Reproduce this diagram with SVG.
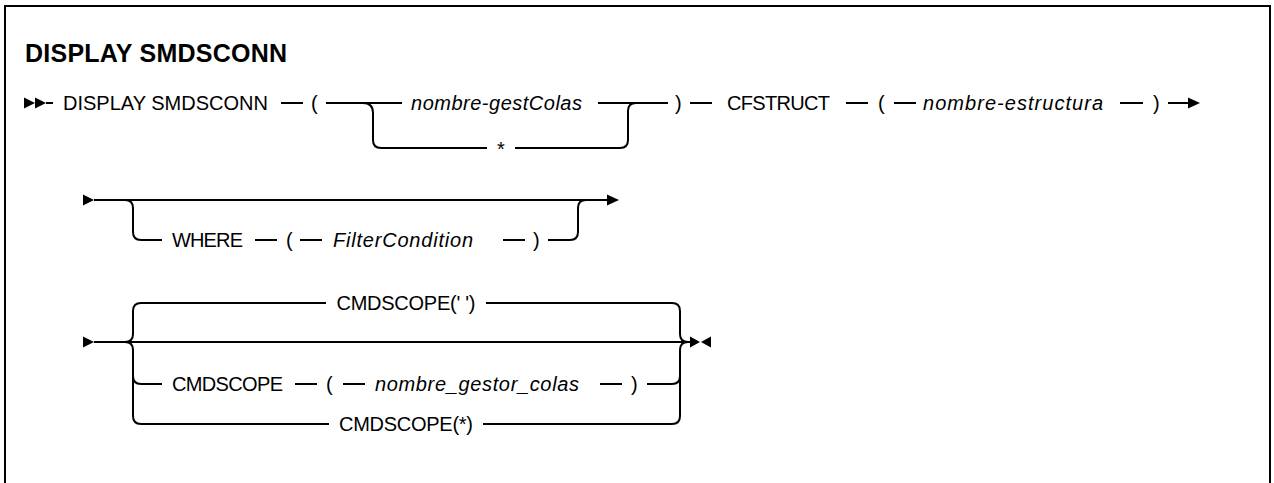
<svg xmlns="http://www.w3.org/2000/svg" width="1274" height="483" viewBox="0 0 1274 483">
<style>
text{font-family:"Liberation Sans",Arial,sans-serif;font-size:20px;fill:#000}
.t{font-size:25px;font-weight:bold}
.i{font-style:italic}
.c{text-anchor:middle}
.l{fill:none;stroke:#000;stroke-width:2}
.h{fill:#000;stroke:none}
</style>
<rect x="5" y="6" width="1265" height="520" fill="#fff" stroke="#000" stroke-width="2"/>
<g id="title"><text class="t" x="25" y="62" textLength="262">DISPLAY SMDSCONN</text></g>
<g id="connectors">
<polygon class="h" points="24,97.5 24,108.5 35,103"/>
<polygon class="h" points="35,97.5 35,108.5 46,103"/>
<path class="l" d="M46,103H53 M281,103H303 M326,103H402 M598,103H668 M363,103Q373,103 373,113V140Q373,148 381,148H487 M515,148H620Q628,148 628,140V111Q628,103 636,103 M690,103H712 M846,103H868 M894,103H916 M1120,103H1143 M1168,103H1190"/>
<polygon class="h" points="1188,97.5 1188,108.5 1200,103"/>
<polygon class="h" points="83,194.5 83,205.5 94,200"/>
<path class="l" d="M94,200H608 M125,200Q133,200 133,208V232Q133,240 141,240H162 M255,240H277 M300,240H322 M503,240H525 M548,240H570Q578,240 578,232V208Q578,200 586,200"/>
<polygon class="h" points="607,194.5 607,205.5 619,200"/>
<polygon class="h" points="83,336.5 83,347.5 94,342"/>
<path class="l" d="M94,342H690 M125,342Q133,342 133,334V311Q133,303 141,303H326 M486,303H672Q680,303 680,311V334Q680,342 688,342 M125,342Q133,342 133,350V416Q133,424 141,424H329 M483,424H672Q680,424 680,416V350Q680,342 688,342 M133,376Q133,384 141,384H162 M295,384H317 M343,384H365 M600,384H622 M647,384H672Q680,384 680,376"/>
<polygon class="h" points="690,336.5 690,347.5 700,342"/>
<polygon class="h" points="711,336.5 711,347.5 701,342"/>
</g>
<g id="n-display"><text x="63" y="110" textLength="205">DISPLAY SMDSCONN</text></g>
<g id="n-lp1"><text x="311" y="110">(</text></g>
<g id="n-qmgr"><text class="i" x="411" y="110" textLength="171">nombre-gestColas</text></g>
<g id="n-star"><text class="c" x="501" y="156">*</text></g>
<g id="n-rp1"><text x="675" y="110">)</text></g>
<g id="n-cfstruct"><text x="727" y="110" textLength="103">CFSTRUCT</text></g>
<g id="n-lp2"><text x="878" y="110">(</text></g>
<g id="n-struct"><text class="i" x="923" y="110" textLength="180">nombre-estructura</text></g>
<g id="n-rp2"><text x="1153" y="110">)</text></g>
<g id="n-where"><text x="172" y="247" textLength="71">WHERE</text></g>
<g id="n-lp3"><text x="286" y="247">(</text></g>
<g id="n-filter"><text class="i" x="333" y="247" textLength="140">FilterCondition</text></g>
<g id="n-rp3"><text x="533" y="247">)</text></g>
<g id="n-cmd1"><text class="c" x="406" y="310" textLength="139">CMDSCOPE(' ')</text></g>
<g id="n-cmd2"><text x="172" y="391" textLength="111">CMDSCOPE</text></g>
<g id="n-lp4"><text x="326" y="391">(</text></g>
<g id="n-qm"><text class="i" x="375" y="391" textLength="204">nombre_gestor_colas</text></g>
<g id="n-rp4"><text x="631" y="391">)</text></g>
<g id="n-cmd3"><text class="c" x="406" y="431" textLength="134">CMDSCOPE(*)</text></g>
</svg>
